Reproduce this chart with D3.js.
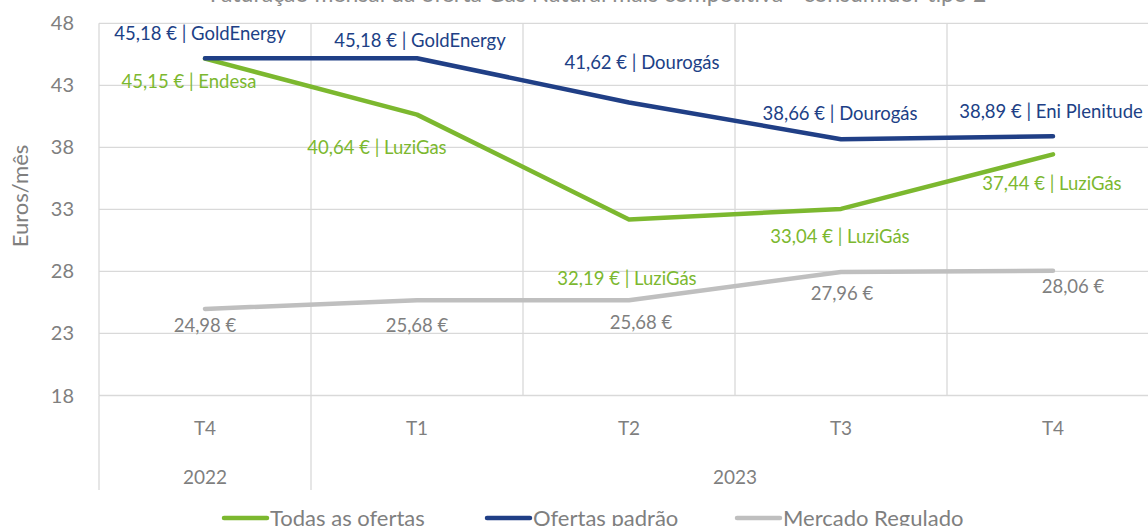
<!DOCTYPE html>
<html>
<head>
<meta charset="utf-8">
<script src="https://cdn.jsdelivr.net/npm/d3@7"></script>
<style>
  html, body { margin: 0; padding: 0; background: #fff; }
  svg { display: block; font-family: Lato, "Open Sans", sans-serif; }
</style>
</head>
<body>
<div id="chart"></div>
<script>
// Chart data
var quarters = ['T4', 'T1', 'T2', 'T3', 'T4'];
var years = [
  { label: '2022', span: 1 },
  { label: '2023', span: 4 }
];
var todasOfertas = [45.15, 40.64, 32.19, 33.04, 37.44];
var todasLabels = ['45,15 € | Endesa', '40,64 € | LuziGas', '32,19 € | LuziGás', '33,04 € | LuziGás', '37,44 € | LuziGás'];
var ofertasPadrao = [45.18, 45.18, 41.62, 38.66, 38.89];
var padraoLabels = ['45,18 € | GoldEnergy', '45,18 € | GoldEnergy', '41,62 € | Dourogás', '38,66 € | Dourogás', '38,89 € | Eni Plenitude'];
var mercadoRegulado = [24.98, 25.68, 25.68, 27.96, 28.06];
var reguladoLabels = ['24,98 €', '25,68 €', '25,68 €', '27,96 €', '28,06 €'];
var yTicks = [18, 23, 28, 33, 38, 43, 48];

// Layout
var width = 1148;
var height = 526;
var plotLeft = 99;
var plotRight = 1159;
var plotTop = 23.3;
var plotBottom = 395.5;
var textGrey = '#7f7f7f';
var gridColor = '#d9d9d9';

// Label offsets from each point (text centre), set by hand as in the original
var series = [
  {
    name: 'Mercado Regulado', values: mercadoRegulado, labels: reguladoLabels, color: '#bfbfbf', textColor: '#7f7f7f',
    offsets: [[0, 17], [0, 25], [12, 22], [1, 22], [20, 16]]
  },
  {
    name: 'Todas as ofertas', values: todasOfertas, labels: todasLabels, color: '#7cb82f', textColor: '#7cb82f',
    offsets: [[-16, 23], [-40, 33], [-2, 59], [-1, 28], [-1, 29]]
  },
  {
    name: 'Ofertas padrão', values: ofertasPadrao, labels: padraoLabels, color: '#203f86', textColor: '#203f86',
    offsets: [[-5, -25], [3, -18], [13, -40], [-1, -26], [-2, -25]]
  }
];
var legendOrder = [series[1], series[2], series[0]];

var svg = d3.select('#chart')
  .append('svg')
  .attr('width', width)
  .attr('height', height);

// Scales
var x = d3.scaleBand()
  .domain(d3.range(quarters.length))
  .range([plotLeft, plotRight])
  .padding(0);
var y = d3.scaleLinear()
  .domain([18, 48])
  .range([plotBottom, plotTop]);
var cx = function (i) { return x(i) + x.bandwidth() / 2; };

// Title (clipped by the top edge)
svg.append('text')
  .attr('x', 598)
  .attr('y', 2)
  .attr('text-anchor', 'middle')
  .attr('font-size', 23)
  .attr('fill', '#8c8c8c')
  .text('Faturação mensal da oferta Gás Natural mais competitiva - consumidor tipo 2');

// Horizontal gridlines
svg.append('g')
  .selectAll('line')
  .data(yTicks)
  .enter()
  .append('line')
  .attr('x1', plotLeft)
  .attr('x2', plotRight)
  .attr('y1', function (d) { return y(d); })
  .attr('y2', function (d) { return y(d); })
  .attr('stroke', gridColor)
  .attr('stroke-width', 1.3);

// Vertical gridlines at category boundaries
var bounds = d3.range(quarters.length + 1).map(function (i) {
  return i < quarters.length ? x(i) : plotRight;
});
svg.append('g')
  .selectAll('line')
  .data(bounds)
  .enter()
  .append('line')
  .attr('x1', function (d) { return d; })
  .attr('x2', function (d) { return d; })
  .attr('y1', plotTop)
  .attr('y2', plotBottom)
  .attr('stroke', gridColor)
  .attr('stroke-width', 1.3);

// Year separators below the plot
var yearStart = 0;
var yearBounds = [x(0)];
years.forEach(function (d) {
  d.start = yearStart;
  yearStart += d.span;
  yearBounds.push(yearStart < quarters.length ? x(yearStart) : plotRight);
});
svg.append('g')
  .selectAll('line')
  .data(yearBounds)
  .enter()
  .append('line')
  .attr('x1', function (d) { return d; })
  .attr('x2', function (d) { return d; })
  .attr('y1', plotBottom)
  .attr('y2', 490)
  .attr('stroke', gridColor)
  .attr('stroke-width', 1.3);

// Y tick labels
svg.append('g')
  .selectAll('text')
  .data(yTicks)
  .enter()
  .append('text')
  .attr('x', 74)
  .attr('y', function (d) { return y(d); })
  .attr('dy', '0.35em')
  .attr('text-anchor', 'end')
  .attr('font-size', 20)
  .attr('fill', textGrey)
  .text(function (d) { return d; });

// Y axis title
svg.append('text')
  .attr('transform', 'translate(28,196) rotate(-90)')
  .attr('text-anchor', 'middle')
  .attr('font-size', 22)
  .attr('fill', textGrey)
  .text('Euros/mês');

// Quarter labels
svg.append('g')
  .selectAll('text')
  .data(quarters)
  .enter()
  .append('text')
  .attr('x', function (d, i) { return cx(i); })
  .attr('y', 428)
  .attr('dy', '0.35em')
  .attr('text-anchor', 'middle')
  .attr('font-size', 19)
  .attr('fill', textGrey)
  .text(function (d) { return d; });

// Year labels
svg.append('g')
  .selectAll('text')
  .data(years)
  .enter()
  .append('text')
  .attr('x', function (d) {
    var end = d.start + d.span;
    var x1 = end < quarters.length ? x(end) : plotRight;
    return (x(d.start) + x1) / 2;
  })
  .attr('y', 477)
  .attr('dy', '0.35em')
  .attr('text-anchor', 'middle')
  .attr('font-size', 19)
  .attr('fill', textGrey)
  .text(function (d) { return d.label; });

// Lines
var line = d3.line()
  .x(function (d, i) { return cx(i); })
  .y(function (d) { return y(d); });

svg.append('g')
  .selectAll('path')
  .data(series)
  .enter()
  .append('path')
  .attr('d', function (d) { return line(d.values); })
  .attr('fill', 'none')
  .attr('stroke', function (d) { return d.color; })
  .attr('stroke-width', 4.5)
  .attr('stroke-linejoin', 'round')
  .attr('stroke-linecap', 'round');

// Data labels
series.forEach(function (s) {
  svg.append('g')
    .selectAll('text')
    .data(s.values)
    .enter()
    .append('text')
    .attr('x', function (d, i) { return cx(i) + s.offsets[i][0]; })
    .attr('y', function (d, i) { return y(d) + s.offsets[i][1]; })
    .attr('dy', '0.35em')
    .attr('text-anchor', 'middle')
    .attr('font-size', 18.5)
    .attr('fill', s.textColor)
    .text(function (d, i) { return s.labels[i]; });
});

// Legend
var legendX = [224, 487, 737];
var legend = svg.append('g')
  .selectAll('g')
  .data(legendOrder)
  .enter()
  .append('g')
  .attr('transform', function (d, i) { return 'translate(' + legendX[i] + ',518)'; });
legend.append('line')
  .attr('x1', 0)
  .attr('x2', 43)
  .attr('stroke', function (d) { return d.color; })
  .attr('stroke-width', 4.5)
  .attr('stroke-linecap', 'round');
legend.append('text')
  .attr('x', 46)
  .attr('dy', '0.35em')
  .attr('font-size', 22)
  .attr('fill', textGrey)
  .text(function (d) { return d.name; });
</script>
</body>
</html>
